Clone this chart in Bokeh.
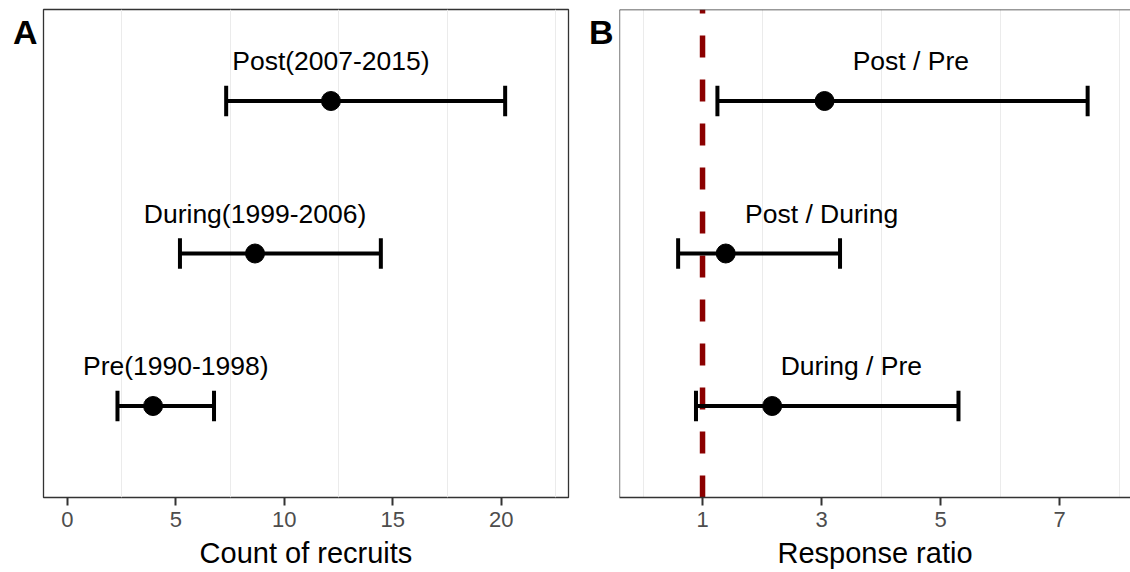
from bokeh.plotting import figure
from bokeh.layouts import row
from bokeh.models import FixedTicker, Range1d, Span
from bokeh.embed import file_html
from bokeh.resources import INLINE
from bokeh.core.properties import value

# ---------------- data ----------------
# Panel A: count of recruits
a_labels = ["Pre(1990-1998)", "During(1999-2006)", "Post(2007-2015)"]
a_pos = [1, 2, 3]
a_est = [3.95, 8.65, 12.15]
a_lo = [2.31, 5.19, 7.32]
a_hi = [6.76, 14.45, 20.18]
a_label_x = [5.0, 8.65, 12.15]
a_ticks = [0, 5, 10, 15, 20]
a_grid = [2.5, 7.5, 12.5, 17.5, 22.5]

# Panel B: response ratio
b_labels = ["During / Pre", "Post / During", "Post / Pre"]
b_pos = [1, 2, 3]
b_est = [2.17, 1.39, 3.05]
b_lo = [0.89, 0.59, 1.25]
b_hi = [5.30, 3.31, 7.47]
b_label_x = [3.5, 3.0, 4.5]
b_ticks = [1, 3, 5, 7]
b_grid = [0, 2, 4, 6, 8]
ref_value = 1

FONT = "Liberation Sans"
LABEL_DY = 0.26
CAP = 0.1
Y0, Y1 = 0.4, 3.6
H = 572
MB_TOP, MB_BOTTOM = 9, 75
BORDER = "#333333"


def make_panel(width, xr, ticks, grid, pos, est, lo, hi, labels, label_x,
               xlabel, letter, mbl, mbr, ref=None, open_right=False):
    p = figure(width=width, height=H, x_range=Range1d(*xr), y_range=Range1d(Y0, Y1),
               output_backend="svg", toolbar_location=None,
               min_border_left=mbl, min_border_right=mbr,
               min_border_top=MB_TOP, min_border_bottom=MB_BOTTOM)
    p.background_fill_color = "white"
    p.border_fill_color = "white"
    p.ygrid.visible = False
    p.xgrid.ticker = FixedTicker(ticks=grid)
    p.xgrid.grid_line_color = "#EBEBEB"
    p.xgrid.grid_line_width = 1
    ax = p.xaxis[0]
    ax.ticker = FixedTicker(ticks=ticks)
    ax.major_tick_in = 0
    ax.major_tick_out = 8
    ax.major_tick_line_color = BORDER
    ax.major_tick_line_width = 2
    ax.minor_tick_line_color = None
    ax.major_label_text_font = FONT
    ax.major_label_text_font_size = "22px"
    ax.major_label_text_color = "#4D4D4D"
    ax.major_label_standoff = 6
    ax.axis_label = xlabel
    ax.axis_label_text_font = FONT
    ax.axis_label_text_font_size = "29px"
    ax.axis_label_text_font_style = "normal"
    ax.axis_label_text_color = "black"
    ax.axis_label_standoff = 7

    # panel letter: shown as the single label of the left axis, near the top
    frame_h = H - MB_TOP - MB_BOTTOM
    px_y = frame_h / (Y1 - Y0)
    ly = round(Y1 - (31.5 - MB_TOP) / px_y, 2)
    yax = p.yaxis[0]
    yax.ticker = FixedTicker(ticks=[ly])
    yax.major_label_overrides = {ly: letter}
    yax.major_tick_in = 0
    yax.major_tick_out = 0
    yax.minor_tick_line_color = None
    yax.major_tick_line_color = None
    yax.major_label_text_font = FONT
    yax.major_label_text_font_size = "34px"
    yax.major_label_text_font_style = "bold"
    yax.major_label_text_color = "black"
    yax.major_label_standoff = 6
    yax.axis_line_color = None

    if open_right:
        # panel cut at the right edge: draw left, top and bottom borders only
        p.outline_line_color = None
        ax.axis_line_color = BORDER
        ax.axis_line_width = 1.3
        p.add_layout(Span(location=Y1, dimension="width", line_color=BORDER, line_width=1.3))
        p.add_layout(Span(location=xr[0], dimension="height", line_color=BORDER, line_width=1.3))
    else:
        ax.axis_line_color = None
        p.outline_line_color = BORDER
        p.outline_line_width = 1.3
        p.outline_line_alpha = 1.0

    if ref is not None:
        p.segment(x0=[ref], y0=[Y0], x1=[ref], y1=[Y1], line_color="#8B0000",
                  line_width=5.5, line_dash="22 22")

    p.segment(x0=lo, y0=pos, x1=hi, y1=pos, line_color="black", line_width=4)
    p.segment(x0=lo, y0=[y - CAP for y in pos], x1=lo, y1=[y + CAP for y in pos],
              line_color="black", line_width=4)
    p.segment(x0=hi, y0=[y - CAP for y in pos], x1=hi, y1=[y + CAP for y in pos],
              line_color="black", line_width=4)
    p.scatter(x=est, y=pos, size=19, fill_color="black", line_color="black")
    p.text(x=label_x, y=[y + LABEL_DY for y in pos], text=labels,
           text_font=value(FONT), text_font_size=value("26.5px"),
           text_align="center", text_baseline="alphabetic", text_color="black")
    return p


pa = make_panel(575, (-1.1, 23.1), a_ticks, a_grid, a_pos, a_est, a_lo, a_hi,
                a_labels, a_label_x, "Count of recruits", "A", 43, 7)
pb = make_panel(555, (-0.395, 8.19), b_ticks, b_grid, b_pos, b_est, b_lo, b_hi,
                b_labels, b_label_x, "Response ratio", "B", 44, 0, ref=ref_value,
                open_right=True)

layout = row(pa, pb)
open("out.html", "w").write(file_html(layout, INLINE))
